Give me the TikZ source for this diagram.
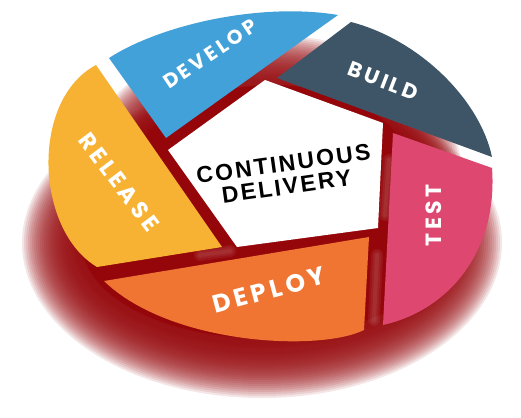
\documentclass[tikz,border=0pt]{standalone}
\usepackage{fontspec}
\setmainfont{Liberation Sans}
\newfontfamily\lab[LetterSpace=16]{Poppins}
\newfontfamily\cdfont[LetterSpace=10]{Liberation Sans}
\definecolor{cdblue}{RGB}{66,161,216}
\definecolor{cdslate}{RGB}{61,85,102}
\definecolor{cdpink}{RGB}{221,71,112}
\definecolor{cdorange}{RGB}{240,116,50}
\definecolor{cdyellow}{RGB}{247,178,52}
\definecolor{cdred}{RGB}{148,6,10}
\tikzset{
  lbl/.style={text=white, inner sep=0pt, font=\lab\bfseries\fontsize{#1}{#1}\selectfont},
  lbl/.default=17,
  cdtext/.style={text=black, inner sep=0pt, align=center, font=\cdfont\bfseries\fontsize{23}{23}\selectfont},
  glowlayer/.style={cdred, opacity=0.1},
  shine/.style={white!85!cdred, opacity=0.07, line cap=round}
}
\begin{document}
\begin{tikzpicture}[x=1pt,y=-1pt]
\useasboundingbox (0,0) rectangle (521,417);
% red glow: lower spread
\foreach \k in {0,...,30}{
  \fill[glowlayer] (262,243) ellipse ({180+2*\k} and {95+2*\k});
}
\fill[cdred] (262,243) ellipse (180 and 95);
% red glow: under the wheel
\foreach \k in {0,...,25}{
  \fill[glowlayer] (272,175) ellipse ({140+2*\k} and {90+2*\k});
}
\fill[cdred] (272,175) ellipse (140 and 90);
% soft highlights in the gaps
\foreach \w in {12,8,4}{
  \draw[shine, line width=\w pt] (389,160) -- (385,215);
  \draw[shine, line width=\w pt] (377,255) -- (374,320);
  \draw[shine, line width=\w pt] (200,255) -- (230,251);
}
% segments
\fill[cdblue] (109,58) .. controls (160,25) and (260,2) .. (338,15) -- (166,138) -- cycle;
\fill[cdslate] (277,78) -- (351,22) .. controls (420,40) and (480,100) .. (492,157) -- cycle;
\fill[cdpink] (393,133) -- (492,168) .. controls (498,250) and (450,310) .. (383,325) -- cycle;
\fill[cdorange] (104,281) -- (369,237) -- (364,330) .. controls (320,352) and (170,345) .. (104,281) -- cycle;
\fill[cdyellow] (96,65) -- (222,247) -- (97,267) .. controls (35,230) and (30,100) .. (96,65) -- cycle;
\fill[white] (265,80) -- (383,123) -- (378,228) -- (237,247) -- (168,150) -- cycle;
% labels
\node[lbl=20, rotate=34] (dev) at (210,54) {DEVELOP};
\node[lbl=21, rotate=-21] (bld) at (383,81) {BUILD};
\node[lbl=22, rotate=90] (tst) at (434,215) {TEST};
\node[lbl=25, rotate=15] (dep) at (269,290) {DEPLOY};
\node[lbl=23, rotate=-53] (rel) at (119,182) {RELEASE};
\node[cdtext, rotate=8] (cd) at (285,175) {CONTINUOUS\\DELIVERY};
\end{tikzpicture}
\end{document}
